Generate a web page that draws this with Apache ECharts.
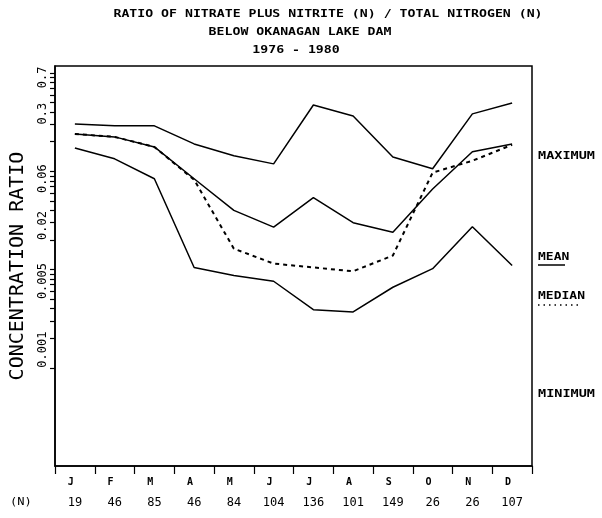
<!DOCTYPE html>
<html><head><meta charset="utf-8">
<script src="https://cdn.jsdelivr.net/npm/echarts@6/dist/echarts.min.js"></script>
<style>html,body{margin:0;padding:0;background:#fff}#c{width:602px;height:518px}</style>
</head><body><div id="c"></div>
<script>
const months = ['J','F','M','A','M','J','J','A','S','O','N','D'];
const nCounts = [19,46,85,46,84,104,136,101,149,26,26,107];
const maximum = [0.303,0.290,0.290,0.190,0.144,0.119,0.473,0.366,0.140,0.106,0.384,0.496];
const mean    = [0.240,0.224,0.177,0.084,0.040,0.027,0.054,0.030,0.024,0.066,0.158,0.190];
const median  = [0.240,0.224,0.177,0.082,0.0163,0.0115,0.0105,0.0096,0.0139,0.097,0.128,0.186];
const minimum = [0.173,0.134,0.084,0.0105,0.0087,0.0076,0.0039,0.0037,0.0066,0.0102,0.0273,0.0110];
const yLabelValues = [0.001,0.005,0.02,0.06,0.3,0.7];
const yTickValues = [0.001,0.002,0.003,0.004,0.005,0.006,0.007,0.008,0.009,
  0.01,0.02,0.03,0.04,0.05,0.06,0.07,0.08,0.09,
  0.1,0.2,0.3,0.4,0.5,0.6,0.7,0.8,0.9,1.0];
const titleLines = ['RATIO OF NITRATE PLUS NITRITE (N) / TOTAL NITROGEN (N)','BELOW OKANAGAN LAKE DAM','1976 - 1980'];

const MONO = '"DejaVu Sans Mono"';
const chart = echarts.init(document.getElementById('c'), null, {renderer:'canvas'});

function lineSeries(name, data, dashed){
  return {name, type:'line', data, symbol:'none', smooth:false,
    lineStyle:{color:'#000', width: dashed?2:1.5, type: dashed?[4,4]:'solid'}, z: dashed?3:2};
}
function txt(text, x, y, size, sx, bold, align){
  return {type:'text', x, y, scaleX:sx, style:{text, font:(bold?'bold ':'')+size+'px '+MONO,
    fill:'#000', textAlign:align||'left', align:align||'left', textVerticalAlign:'middle', verticalAlign:'middle'}};
}

chart.setOption({
  animation:false,
  backgroundColor:'#fff',
  grid:{left:52, right:70, top:66, bottom:52, show:true, borderColor:'#000', borderWidth:1.5},
  xAxis:{type:'category', data:months, boundaryGap:true,
    axisLine:{lineStyle:{color:'#000', width:1.5}},
    axisTick:{show:true, length:8, lineStyle:{color:'#000', width:1.2}},
    axisLabel:{margin:5, interval:0,
      formatter:(v,i)=>'{m|'+v+'}\n{n|'+nCounts[i]+'}',
      rich:{m:{fontFamily:MONO, fontSize:10, fontWeight:'bold', color:'#000', lineHeight:22, padding:[0,8,0,0]},
            n:{fontFamily:MONO, fontSize:12, color:'#000', lineHeight:20}}}},
  yAxis:{type:'log', logBase:10, min:0.0001, max:1.18,
    name:'CONCENTRATION RATIO', nameLocation:'middle', nameGap:27,
    nameTextStyle:{fontFamily:MONO, fontSize:20, color:'#000'},
    splitLine:{show:false}, minorTick:{show:false},
    axisLine:{show:true, lineStyle:{color:'#000', width:1.5}},
    axisTick:{show:true, length:5, customValues:yTickValues, lineStyle:{color:'#000', width:1.2}},
    axisLabel:{customValues:yLabelValues, rotate:90, margin:12, align:'left', verticalAlign:'middle',
      fontFamily:MONO, fontSize:12, color:'#000', formatter:v=>String(+v.toPrecision(3))}},
  series:[lineSeries('MAXIMUM',maximum,false), lineSeries('MEAN',mean,false),
          lineSeries('MEDIAN',median,true), lineSeries('MINIMUM',minimum,false)],
  graphic:[
    txt(titleLines[0], 328, 14, 11, 1.2, true, 'center'),
    txt(titleLines[1], 300, 32, 11, 1.2, true, 'center'),
    txt(titleLines[2], 296, 50, 11, 1.2, true, 'center'),
    txt('MAXIMUM', 538, 156, 10, 1.35, true),
    txt('MEAN', 538, 257, 10, 1.3, true),
    {type:'line', shape:{x1:538, y1:265, x2:565, y2:265}, style:{stroke:'#000', lineWidth:1.5}},
    txt('MEDIAN', 538, 296, 10, 1.3, true),
    {type:'line', shape:{x1:538, y1:305, x2:580, y2:305}, style:{stroke:'#000', lineWidth:1.5, lineDash:[1.5,4]}},
    txt('MINIMUM', 538, 394, 10, 1.35, true),
    txt('(N)', 10, 502, 11, 1.1, false)
  ]
});
</script></body></html>
